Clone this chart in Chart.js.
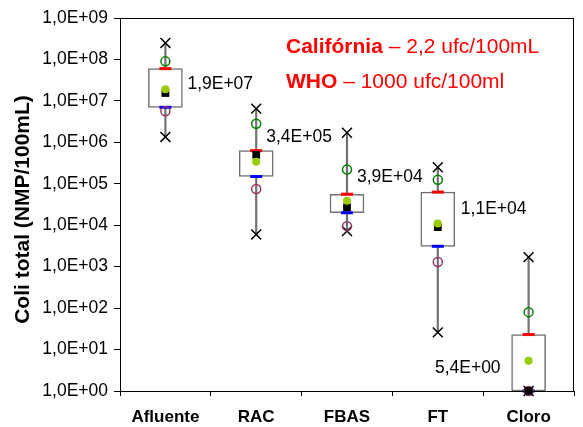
<!DOCTYPE html>
<html>
<head>
<meta charset="utf-8">
<script src="https://cdn.jsdelivr.net/npm/chart.js@4"></script>
<style>
html,body{margin:0;padding:0;background:#fff;}
canvas{display:block;}
</style>
</head>
<body>
<canvas id="c" width="583" height="427"></canvas>
<script>
// ---- data ----
const categories = ['Afluente', 'RAC', 'FBAS', 'FT', 'Cloro'];
const maxVals    = [2.5e8, 6.5e6, 1.7e6, 2.5e5, 1.7e3];
const p90Vals    = [9.0e7, 2.8e6, 2.2e5, 1.25e5, 80];
const q3Vals     = [6.0e7, 6.3e5, 5.6e4, 6.3e4, 23];
const medianVals = [1.55e7, 5.0e5, 2.7e4, 9.0e3, 1];
const meanVals   = [1.9e7, 3.4e5, 3.9e4, 1.1e4, 5.4];
const q1Vals     = [7.0e6, 1.5e5, 2.0e4, 3.1e3, 1];
const p10Vals    = [5.6e6, 7.5e4, 9.5e3, 1.3e3, 1];
const minVals    = [1.35e6, 6.0e3, 7.2e3, 26, 1];
const meanLabels = ['1,9E+07', '3,4E+05', '3,9E+04', '1,1E+04', '5,4E+00'];
const yTickValues = [1, 1e1, 1e2, 1e3, 1e4, 1e5, 1e6, 1e7, 1e8, 1e9];
const yTickLabels = ['1,0E+00','1,0E+01','1,0E+02','1,0E+03','1,0E+04','1,0E+05','1,0E+06','1,0E+07','1,0E+08','1,0E+09'];
const yTitle = 'Coli total (NMP/100mL)';
const noteLines = [
  {bold: 'Califórnia', rest: ' – 2,2 ufc/100mL'},
  {bold: 'WHO', rest: ' – 1000 ufc/100ml'}
];

// ---- styling (label offsets in pixels from category center / mean point) ----
const labelOffsets = [
  {dx: 22, dy: -5, align: 'left'},
  {dx: 10, dy: -25, align: 'left'},
  {dx: 10, dy: -24, align: 'left'},
  {dx: 23, dy: -14, align: 'left'},
  {dx: -28, dy: 8, align: 'right'}
];

const FONT = '"Liberation Sans", Arial, sans-serif';

const framePlugin = {
  id: 'frame',
  afterDraw(chart) {
    const {ctx, chartArea: a} = chart;
    ctx.save();
    ctx.strokeStyle = '#000';
    ctx.lineWidth = 1;
    ctx.strokeRect(Math.round(a.left) + 0.5, Math.round(a.top) + 0.5, Math.round(a.right - a.left) - 1, Math.round(a.bottom - a.top));
    ctx.restore();
  }
};

const labelPlugin = {
  id: 'meanLabels',
  afterDatasetsDraw(chart) {
    const {ctx, chartArea: a} = chart;
    const xs = chart.scales.x, ys = chart.scales.y;
    ctx.save();
    ctx.font = '17.5px ' + FONT;
    ctx.fillStyle = '#000';
    ctx.textBaseline = 'middle';
    meanLabels.forEach((t, i) => {
      const o = labelOffsets[i];
      ctx.textAlign = o.align;
      ctx.fillText(t, xs.getPixelForValue(i) + o.dx, ys.getPixelForValue(meanVals[i]) + o.dy);
    });
    // y axis title
    ctx.save();
    ctx.translate(23, (a.top + a.bottom) / 2 + 5);
    ctx.rotate(-Math.PI / 2);
    ctx.textAlign = 'center';
    ctx.textBaseline = 'middle';
    ctx.font = 'bold 21px ' + FONT;
    ctx.fillText(yTitle, 0, 0);
    ctx.restore();
    // note text
    ctx.textAlign = 'left';
    ctx.textBaseline = 'alphabetic';
    ctx.fillStyle = '#ff0000';
    const baseX = 286, baseYs = [53, 88];
    noteLines.forEach((l, i) => {
      ctx.font = 'bold 21px ' + FONT;
      ctx.fillText(l.bold, baseX, baseYs[i]);
      const w = ctx.measureText(l.bold).width;
      ctx.font = '21px ' + FONT;
      ctx.fillText(l.rest, baseX + w, baseYs[i]);
    });
    ctx.restore();
  }
};

function pts(data, style, color, radius, extra) {
  return Object.assign({
    type: 'line',
    data: data,
    showLine: false,
    clip: false,
    pointStyle: style,
    pointRadius: radius,
    pointHoverRadius: radius,
    pointBorderColor: color,
    pointBackgroundColor: color,
    pointBorderWidth: 1.5
  }, extra || {});
}

new Chart(document.getElementById('c'), {
  type: 'bar',
  data: {
    labels: categories,
    datasets: [
      {
        type: 'bar', label: 'whisker',
        data: minVals.map((v, i) => [v, maxVals[i]]),
        backgroundColor: '#707070', borderWidth: 0,
        barThickness: 1.5, grouped: false, order: 20
      },
      {
        type: 'bar', label: 'box',
        data: q1Vals.map((v, i) => [v, q3Vals[i]]),
        backgroundColor: '#ffffff', borderColor: '#707070', borderWidth: 1.5,
        borderSkipped: false,
        barThickness: 34, grouped: false, order: 19
      },
      pts(q3Vals, 'line', '#ff0000', 6, {pointBorderWidth: 3, order: 18}),
      pts(q1Vals, 'line', '#0000ff', 6, {pointBorderWidth: 3, order: 17}),
      pts(maxVals, 'crossRot', '#000000', 7, {order: 16}),
      pts(minVals, 'crossRot', '#000000', 7, {order: 15}),
      pts(p90Vals, 'circle', '#008000', 4.5, {pointBackgroundColor: 'rgba(0,0,0,0)', order: 14}),
      pts(p10Vals, 'circle', '#993366', 4.5, {pointBackgroundColor: 'rgba(0,0,0,0)', order: 13}),
      pts(medianVals, 'rect', '#000000', 5.5, {pointBorderWidth: 0, order: 12}),
      pts(meanVals, 'circle', '#99cc00', 4, {pointBorderWidth: 0, order: 11})
    ]
  },
  options: {
    responsive: false,
    animation: false,
    events: [],
    layout: {padding: {top: 18, right: 9, left: 0, bottom: 0}},
    plugins: {legend: {display: false}, tooltip: {enabled: false}},
    scales: {
      x: {
        type: 'category',
        offset: true,
        grid: {display: true, drawOnChartArea: false, offset: true, tickLength: 5, color: '#000', lineWidth: 1},
        border: {display: true, color: '#000', width: 1},
        ticks: {font: {family: FONT, size: 17, weight: 'bold'}, color: '#000', padding: 11, maxRotation: 0},
        afterFit(s) { s.height = 36; }
      },
      y: {
        type: 'logarithmic',
        min: 1, max: 1e9,
        afterBuildTicks(s) { s.ticks = yTickValues.map(v => ({value: v})); },
        grid: {display: true, drawOnChartArea: false, tickLength: 6, color: '#000', lineWidth: 1},
        border: {display: true, color: '#000', width: 1},
        ticks: {
          font: {family: FONT, size: 17.5}, color: '#000', padding: 6,
          callback(v) { const i = yTickValues.indexOf(v); return i >= 0 ? yTickLabels[i] : ''; }
        },
        afterFit(s) { s.width = 120; }
      }
    }
  },
  plugins: [framePlugin, labelPlugin]
});
</script>
</body>
</html>
